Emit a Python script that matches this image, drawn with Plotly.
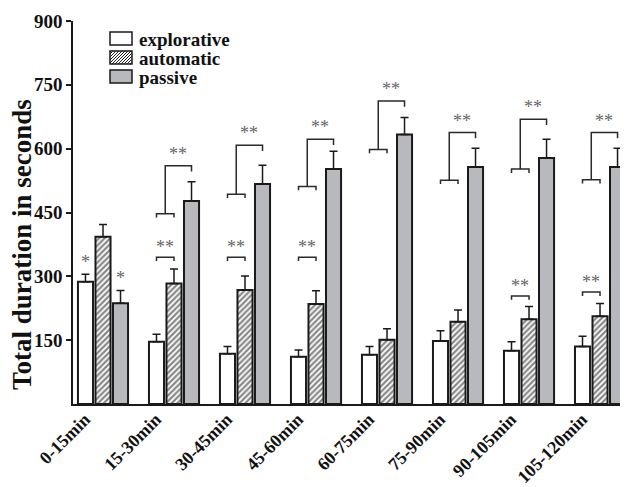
import plotly.graph_objects as go

# ---------------- data ----------------
categories = ["0-15min", "15-30min", "30-45min", "45-60min",
              "60-75min", "75-90min", "90-105min", "105-120min"]
explorative = [287, 146, 118, 111, 116, 148, 125, 135]
explorative_err = [18, 18, 17, 16, 19, 24, 21, 24]
automatic = [393, 283, 268, 235, 151, 193, 199, 206]
automatic_err = [29, 34, 33, 31, 26, 28, 30, 30]
passive = [237, 477, 517, 552, 633, 557, 578, 557]
passive_err = [30, 45, 44, 42, 40, 44, 44, 44]

y_ticks = [150, 300, 450, 600, 750, 900]

# significance: explorative vs automatic
ea_groups = [1, 2, 3, 6, 7]
ea_level = [345, 345, 345, 254, 263]
# significance: (explorative+automatic) vs passive
pa_groups = [1, 2, 3, 4, 5, 6, 7]
pa_base = [447, 493, 511, 598, 526, 552, 527]
pa_top = [560, 608, 622, 712, 638, 669, 638]
# single stars in first interval
single_star_groups = [0]

# ---------------- style ----------------
FONT = "Liberation Serif"
BARGAP = 0.26
BARGROUPGAP = 0.14
STEP = (1 - BARGAP) / 3
OFF = 8                       # default page margin of the html body
PAGE_W, PAGE_H = 628, 487
W, H = PAGE_W - OFF, PAGE_H - OFF
L, T = 73 - OFF, 21 - OFF
R = 0
B = H - (404 - OFF)
PW, PH = W - L - R, H - T - B
GRAY = "#b8b9bc"
LINE = "#1a1a1a"

x = list(range(len(categories)))

fig = go.Figure()

def err(arr):
    return dict(type="data", array=arr, arrayminus=[0] * len(arr), symmetric=False,
                color=LINE, thickness=1.5, width=4)

fig.add_trace(go.Bar(x=x, y=explorative, name="explorative", error_y=err(explorative_err),
                     marker=dict(color="white", line=dict(color=LINE, width=2))))
fig.add_trace(go.Bar(x=x, y=automatic, name="automatic", error_y=err(automatic_err),
                     marker=dict(color="white", line=dict(color=LINE, width=2),
                                 pattern=dict(shape="/", fgcolor="#111", bgcolor="white",
                                              size=4, solidity=0.55))))
fig.add_trace(go.Bar(x=x, y=passive, name="passive", error_y=err(passive_err),
                     marker=dict(color=GRAY, line=dict(color=LINE, width=2))))

shapes = []
annotations = []
BR = dict(color="#2a2a2a", width=1.5)
D = 9  # downtick length in data units
STAR_FONT = dict(family=FONT, size=18, color="#666")

for g, lv in zip(ea_groups, ea_level):
    xe, xa = g - STEP, g
    shapes.append(dict(type="path", xref="x", yref="y", line=BR,
                       path=f"M{xe},{lv - D} L{xe},{lv} L{xa},{lv} L{xa},{lv - D}"))
    annotations.append(dict(x=(xe + xa) / 2, y=lv, xref="x", yref="y", text="**",
                            showarrow=False, yanchor="bottom", yshift=-2, font=STAR_FONT))

for g, b, t in zip(pa_groups, pa_base, pa_top):
    xe, xa, xp = g - STEP, g, g + STEP
    mid = (xe + xa) / 2
    shapes.append(dict(type="path", xref="x", yref="y", line=BR,
                       path=f"M{xe},{b - D} L{xe},{b} L{xa},{b} L{xa},{b - D}"))
    shapes.append(dict(type="path", xref="x", yref="y", line=BR,
                       path=f"M{mid},{b} L{mid},{t} L{xp},{t} L{xp},{t - 1.5 * D}"))
    annotations.append(dict(x=(mid + xp) / 2, y=t, xref="x", yref="y", text="**",
                            showarrow=False, yanchor="bottom", yshift=0, font=STAR_FONT))

for g in single_star_groups:
    for xs, top in ((g - STEP, explorative[g] + explorative_err[g]),
                    (g + STEP, passive[g] + passive_err[g])):
        annotations.append(dict(x=xs, y=top, xref="x", yref="y", text="*",
                                showarrow=False, yanchor="bottom", yshift=0, font=STAR_FONT))

# ---------------- manual legend (page pixel -> paper) ----------------
def px_x(p):
    return (p - OFF - L) / PW

def px_y(p):
    return (H - B - (p - OFF)) / PH

legend_items = [("explorative", "white", False), ("automatic", "white", True), ("passive", GRAY, False)]
bx0, bx1 = 110, 132
row_tops = [32, 51, 70]
bh = 13
for (name, col, hatch), top in zip(legend_items, row_tops):
    shapes.append(dict(type="rect", xref="paper", yref="paper",
                       x0=px_x(bx0), x1=px_x(bx1), y0=px_y(top + bh), y1=px_y(top),
                       fillcolor=col, line=dict(color=LINE, width=1.5)))
    if hatch:
        w, h, s = bx1 - bx0, bh, 3
        segs = []
        c = -h
        while c < w:
            sx, sy = max(c, 0), max(0, -c)
            ex, ey = min(w, c + h), min(h, w - c)
            if ex > sx:
                segs.append(f"M{px_x(bx0 + sx)},{px_y(top + bh - sy)} L{px_x(bx0 + ex)},{px_y(top + bh - ey)}")
            c += s
        shapes.append(dict(type="path", xref="paper", yref="paper", path=" ".join(segs),
                           line=dict(color="#222", width=1)))
    annotations.append(dict(x=px_x(137), y=px_y(top + bh / 2 + 1), xref="paper", yref="paper",
                            text=name, showarrow=False, xanchor="left", yanchor="middle",
                            font=dict(family=FONT, size=19, color="#111", weight="bold")))

# y-axis title as rotated text
annotations.append(dict(x=px_x(22), y=px_y(245), xref="paper", yref="paper",
                        text="Total duration in seconds", textangle=-90, showarrow=False,
                        xanchor="center", yanchor="middle",
                        font=dict(family=FONT, size=27, color="#111", weight="bold")))

fig.update_layout(
    width=W, height=H,
    margin=dict(l=L, r=R, t=T, b=B, autoexpand=False),
    plot_bgcolor="white", paper_bgcolor="white",
    barmode="group", bargap=BARGAP, bargroupgap=BARGROUPGAP,
    showlegend=False,
    shapes=shapes, annotations=annotations,
    font=dict(family=FONT, color="#111"),
)
fig.update_xaxes(range=[-0.4225, 7.394], tickmode="array", tickvals=x, ticktext=categories,
                 tickangle=-45, ticks="", showgrid=False, zeroline=False, automargin=False,
                 showline=True, linecolor=LINE, linewidth=1.5,
                 tickfont=dict(family=FONT, size=18, color="#111", weight="bold"),
                 ticklabelshift=-18, ticklabelstandoff=-4)
fig.update_yaxes(range=[0, 900], tickmode="array", tickvals=y_ticks, automargin=False,
                 ticks="outside", ticklen=5, tickwidth=1.5, tickcolor=LINE,
                 showgrid=False, zeroline=False, showline=True, linecolor=LINE, linewidth=1.5,
                 tickfont=dict(family=FONT, size=19, color="#111", weight="bold"))

fig.write_html("out.html")
